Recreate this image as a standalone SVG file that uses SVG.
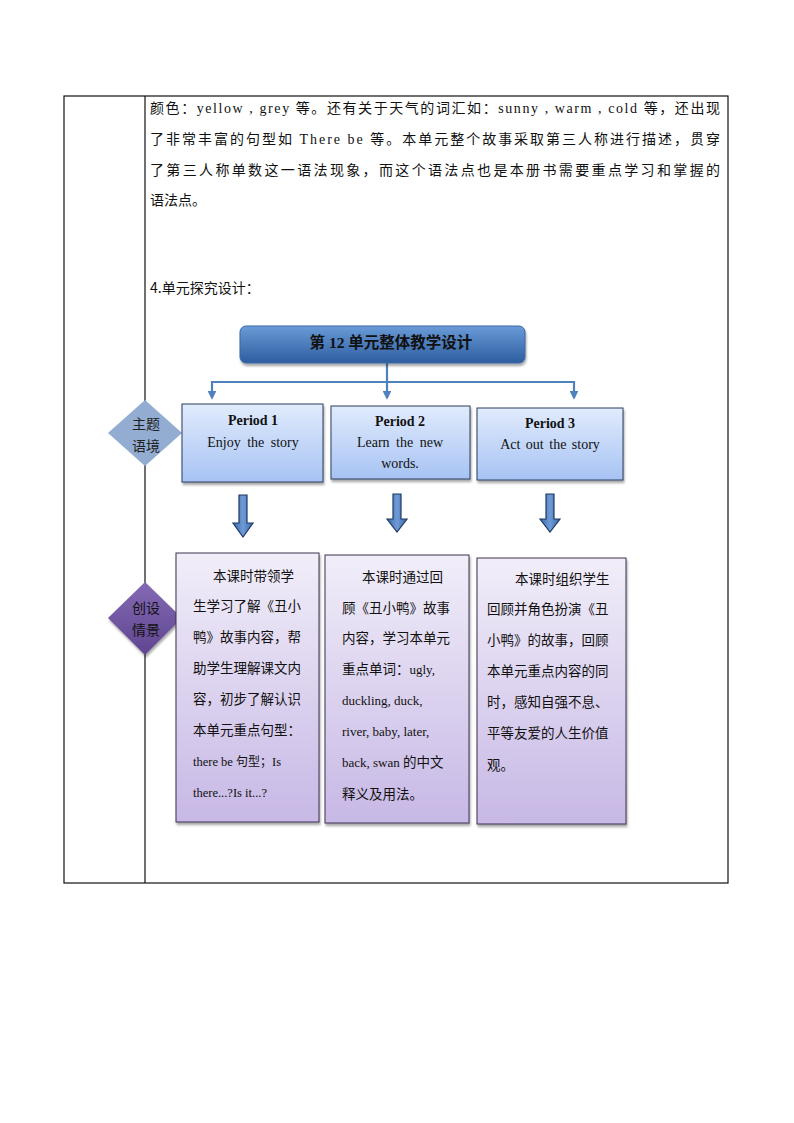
<svg xmlns="http://www.w3.org/2000/svg" width="794" height="1123" viewBox="0 0 794 1123">
<defs>
<style>
.cn{font-family:"Liberation Serif","Noto Sans CJK SC",serif;font-size:14px;fill:#111}
.pt{font-family:"Liberation Serif","Noto Sans CJK SC",serif;font-size:14px;fill:#111}
.pb{font-family:"Liberation Serif","Noto Sans CJK SC",serif;font-size:14px;font-weight:bold;fill:#111}
.bx{font-family:"Noto Sans CJK SC","Liberation Sans",sans-serif;font-size:13.5px;fill:#111}
.tbl{stroke:#111;stroke-width:1.2;fill:none}
.pbox{fill:url(#gBlue);stroke:#2a3f5c;stroke-width:1}
.vbox{fill:url(#gPurp);stroke:#3f3151;stroke-width:1}
.conn{stroke:#4f81bd;stroke-width:2.2;fill:none}
.barrow{fill:url(#gArrow);stroke:#1f3864;stroke-width:1.2}
</style>
<linearGradient id="gBlue" x1="0" y1="0" x2="0" y2="1"><stop offset="0" stop-color="#e1ebfc"/><stop offset="1" stop-color="#a7c3f4"/></linearGradient>
<linearGradient id="gPurp" x1="0" y1="0" x2="0" y2="1"><stop offset="0" stop-color="#f1eef9"/><stop offset="1" stop-color="#c7b8e5"/></linearGradient>
<linearGradient id="gTitle" x1="0" y1="0" x2="0" y2="1"><stop offset="0" stop-color="#6a9bd8"/><stop offset="1" stop-color="#2d5d9e"/></linearGradient>
<linearGradient id="gArrow" x1="0" y1="0" x2="1" y2="0"><stop offset="0" stop-color="#3a6aa8"/><stop offset="0.5" stop-color="#6f9ad6"/><stop offset="1" stop-color="#3a6aa8"/></linearGradient>
<linearGradient id="gDia2" x1="0" y1="0" x2="0" y2="1"><stop offset="0" stop-color="#8469b5"/><stop offset="1" stop-color="#5f4690"/></linearGradient>
<marker id="ah" viewBox="0 0 10 10" refX="8" refY="5" markerWidth="4" markerHeight="4" orient="auto" markerUnits="strokeWidth"><path d="M0,0 L10,5 L0,10 z" fill="#4f81bd"/></marker>
<filter id="sh" x="-10%" y="-10%" width="130%" height="130%"><feDropShadow dx="1" dy="2.5" stdDeviation="1" flood-color="#000" flood-opacity="0.35"/></filter>
</defs>
<rect width="794" height="1123" fill="#fff"/>

<g id="table">
<rect class="tbl" x="64" y="96" width="664" height="787"/>
<line class="tbl" x1="145" y1="96" x2="145" y2="883"/>
</g>

<g id="paragraph">
<text class="cn" x="150" y="113" textLength="570" lengthAdjust="spacing">颜色：yellow , grey 等。还有关于天气的词汇如：sunny , warm , cold 等，还出现</text>
<text class="cn" x="150" y="144" textLength="570" lengthAdjust="spacing">了非常丰富的句型如 There be 等。本单元整个故事采取第三人称进行描述，贯穿</text>
<text class="cn" x="150" y="175" textLength="570" lengthAdjust="spacing">了第三人称单数这一语法现象，而这个语法点也是本册书需要重点学习和掌握的</text>
<text class="cn" x="150" y="205">语法点。</text>
<text class="bx" x="150" y="293" style="font-size:14px">4.单元探究设计：</text>
</g>

<g id="connectors">
<line class="conn" x1="387" y1="363" x2="387" y2="382"/>
<line class="conn" x1="212" y1="382" x2="574" y2="382"/>
<line class="conn" x1="212" y1="381" x2="212" y2="398" marker-end="url(#ah)"/>
<line class="conn" x1="387" y1="382" x2="387" y2="398" marker-end="url(#ah)"/>
<line class="conn" x1="574" y1="381" x2="574" y2="398" marker-end="url(#ah)"/>
<path class="barrow" d="M239,495 h8 v28 h6 l-10,14 l-10,-14 h6 z"/>
<path class="barrow" d="M393,494 h8 v25 h6 l-10,13 l-10,-13 h6 z"/>
<path class="barrow" d="M546,494 h8 v25 h6 l-10,13 l-10,-13 h6 z"/>
</g>

<g id="title">
<rect x="240" y="326" width="285" height="37" rx="6" fill="url(#gTitle)" stroke="#3a67a3" stroke-width="1" filter="url(#sh)"/>
<text class="pb" x="391" y="348" text-anchor="middle" style="font-size:15.5px">第 12 单元整体教学设计</text>
</g>

<g id="diamond1">
<polygon points="145,400 182,433 145,466 108,433" fill="#93acd1"/>
<text class="bx" x="146" y="429" text-anchor="middle" style="font-size:14px;fill:#222">主题</text>
<text class="bx" x="146" y="451" text-anchor="middle" style="font-size:14px;fill:#222">语境</text>
</g>

<g id="period1">
<rect class="pbox" x="182" y="404" width="141" height="78" filter="url(#sh)"/>
<text class="pb" x="253" y="425" text-anchor="middle">Period 1</text>
<text class="pt" x="253" y="447" text-anchor="middle" word-spacing="3">Enjoy the story</text>
</g>
<g id="period2">
<rect class="pbox" x="331" y="406" width="139" height="73" filter="url(#sh)"/>
<text class="pb" x="400" y="426" text-anchor="middle">Period 2</text>
<text class="pt" x="400" y="447" text-anchor="middle" word-spacing="3">Learn the new</text>
<text class="pt" x="400" y="468" text-anchor="middle">words.</text>
</g>
<g id="period3">
<rect class="pbox" x="477" y="408" width="146" height="72" filter="url(#sh)"/>
<text class="pb" x="550" y="428" text-anchor="middle">Period 3</text>
<text class="pt" x="550" y="449" text-anchor="middle" word-spacing="2">Act out the story</text>
</g>

<g id="diamond2">
<polygon points="145,582 182,618 145,655 108,618" fill="url(#gDia2)" filter="url(#sh)"/>
<text class="bx" x="146" y="613" text-anchor="middle" style="font-size:14px;fill:#111">创设</text>
<text class="bx" x="146" y="635" text-anchor="middle" style="font-size:14px;fill:#111">情景</text>
</g>

<g id="box1">
<rect class="vbox" x="176" y="553" width="143" height="269" filter="url(#sh)"/>
<text class="bx" x="213" y="581">本课时带领学</text>
<text class="bx" x="193" y="611">生学习了解《丑小</text>
<text class="bx" x="193" y="642">鸭》故事内容，帮</text>
<text class="bx" x="193" y="673">助学生理解课文内</text>
<text class="bx" x="193" y="704">容，初步了解认识</text>
<text class="bx" x="193" y="735">本单元重点句型：</text>
<text class="bx" x="193" y="766" style="font-size:12px"><tspan style="font-family:'Liberation Serif',serif;font-size:12.5px">there be </tspan>句型；<tspan style="font-family:'Liberation Serif',serif;font-size:12.5px">Is</tspan></text>
<text x="193" y="797" style="font-family:'Liberation Serif',serif;font-size:12.5px;fill:#111">there...?Is it...?</text>
</g>

<g id="box2">
<rect class="vbox" x="325" y="555" width="144" height="268" filter="url(#sh)"/>
<text class="bx" x="362" y="582">本课时通过回</text>
<text class="bx" x="342" y="613">顾《丑小鸭》故事</text>
<text class="bx" x="342" y="643">内容，学习本单元</text>
<text class="bx" x="342" y="674">重点单词：<tspan style="font-family:'Liberation Serif',serif;font-size:13px">ugly,</tspan></text>
<text x="342" y="705" style="font-family:'Liberation Serif',serif;font-size:13px;fill:#111">duckling, duck,</text>
<text x="342" y="736" style="font-family:'Liberation Serif',serif;font-size:13px;fill:#111">river, baby, later,</text>
<text class="bx" x="342" y="767"><tspan style="font-family:'Liberation Serif',serif;font-size:13px">back, swan </tspan>的中文</text>
<text class="bx" x="342" y="799">释义及用法。</text>
</g>

<g id="box3">
<rect class="vbox" x="477" y="558" width="149" height="266" filter="url(#sh)"/>
<text class="bx" x="515" y="584">本课时组织学生</text>
<text class="bx" x="487" y="614">回顾并角色扮演《丑</text>
<text class="bx" x="487" y="645">小鸭》的故事，回顾</text>
<text class="bx" x="487" y="676">本单元重点内容的同</text>
<text class="bx" x="487" y="707">时，感知自强不息、</text>
<text class="bx" x="487" y="738">平等友爱的人生价值</text>
<text class="bx" x="487" y="770">观。</text>
</g>
</svg>
